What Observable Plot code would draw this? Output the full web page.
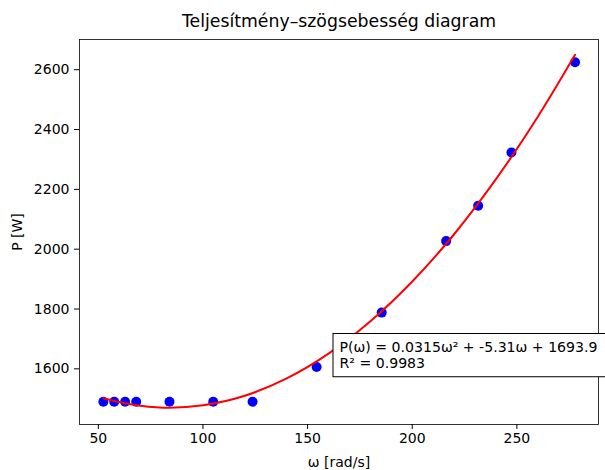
<!DOCTYPE html>
<html><head><meta charset="utf-8">
<script src="https://cdn.jsdelivr.net/npm/d3@7"></script>
<script src="https://cdn.jsdelivr.net/npm/@observablehq/plot@0.6"></script>
<style>
body{margin:0;background:#fff;}
#chart{width:605px;height:470px;overflow:hidden;}
</style></head><body><div id="chart"></div>
<script>
const title = "Teljesítmény–szögsebesség diagram";
const xLabel = "ω [rad/s]";
const yLabel = "P [W]";
// measured points
const omega = [52.4, 57.6, 62.8, 68.1, 84.0, 104.9, 123.7, 154.3, 185.4, 216.2, 231.5, 247.4, 277.8];
const power = [1490, 1490, 1490, 1490, 1490, 1490, 1490, 1606, 1788, 2027, 2145, 2323, 2625];
// fitted curve
const fitOmega = [52.4, 60, 70, 84, 100, 120, 140, 160, 180, 200, 220, 240, 260, 277.8];
const fitPower = [1502, 1489, 1477, 1470, 1478, 1510, 1568, 1651, 1759, 1892, 2050, 2234, 2443, 2650];
const xTicks = [50, 100, 150, 200, 250];
const yTicks = [1600, 1800, 2000, 2200, 2400, 2600];
const annotationLines = ["P(ω) = 0.0315ω² + -5.31ω + 1693.9", "R² = 0.9983"];

const points = omega.map((w, i) => ({omega: w, power: power[i]}));
const fit = fitOmega.map((w, i) => ({omega: w, power: fitPower[i]}));

const font = "'DejaVu Sans', sans-serif";
const plot = Plot.plot({
  width: 605, height: 470,
  marginLeft: 79, marginRight: 7, marginTop: 39, marginBottom: 46,
  style: {fontFamily: font, fontSize: "14px", color: "#000", background: "#fff", overflow: "visible"},
  x: {domain: [41, 289]},
  y: {domain: [1414, 2701]},
  marks: [
    Plot.axisX({ticks: xTicks, tickSize: 5, tickPadding: 4, tickFormat: d => String(d),
      label: xLabel, labelAnchor: "center", labelArrow: "none", labelOffset: 42, fontSize: 14}),
    Plot.axisY({ticks: yTicks, tickSize: 5, tickPadding: 5, tickFormat: d => String(d),
      label: yLabel, labelAnchor: "center", labelArrow: "none", labelOffset: 67, fontSize: 14}),
    Plot.dot(points, {x: "omega", y: "power", r: 5, fill: "#0000ff", stroke: null}),
    Plot.line(fit, {x: "omega", y: "power", stroke: "#ff0000", strokeWidth: 2, curve: "catmull-rom"}),
    Plot.frame({stroke: "#000", strokeWidth: 0.8}),
    Plot.text([annotationLines.join("\n")], {frameAnchor: "top-left", dx: 260, dy: 301,
      textAnchor: "start", lineAnchor: "top", lineHeight: 1.15, fontSize: 14.1, fill: "#000", className: "annot"}),
    Plot.text([title], {frameAnchor: "top", dy: -13, lineAnchor: "bottom", fontSize: 17.3, fill: "#000"})
  ]
});
document.getElementById("chart").appendChild(plot);

// box behind the annotation text (drawn in the annotation's own coordinate space);
// in the reference its right side runs past the picture's edge
const annot = plot.querySelector("g.annot");
if (annot) {
  const bb = annot.getBBox();
  const padL = 6.5, padR = 14, padY = 5.5;
  const rect = document.createElementNS("http://www.w3.org/2000/svg", "rect");
  rect.setAttribute("x", bb.x - padL);
  rect.setAttribute("y", bb.y - padY);
  rect.setAttribute("width", bb.width + padL + padR);
  rect.setAttribute("height", bb.height + 2 * padY);
  rect.setAttribute("fill", "#fff");
  rect.setAttribute("stroke", "#000");
  rect.setAttribute("stroke-width", "1");
  annot.insertBefore(rect, annot.firstChild);
}
</script></body></html>
